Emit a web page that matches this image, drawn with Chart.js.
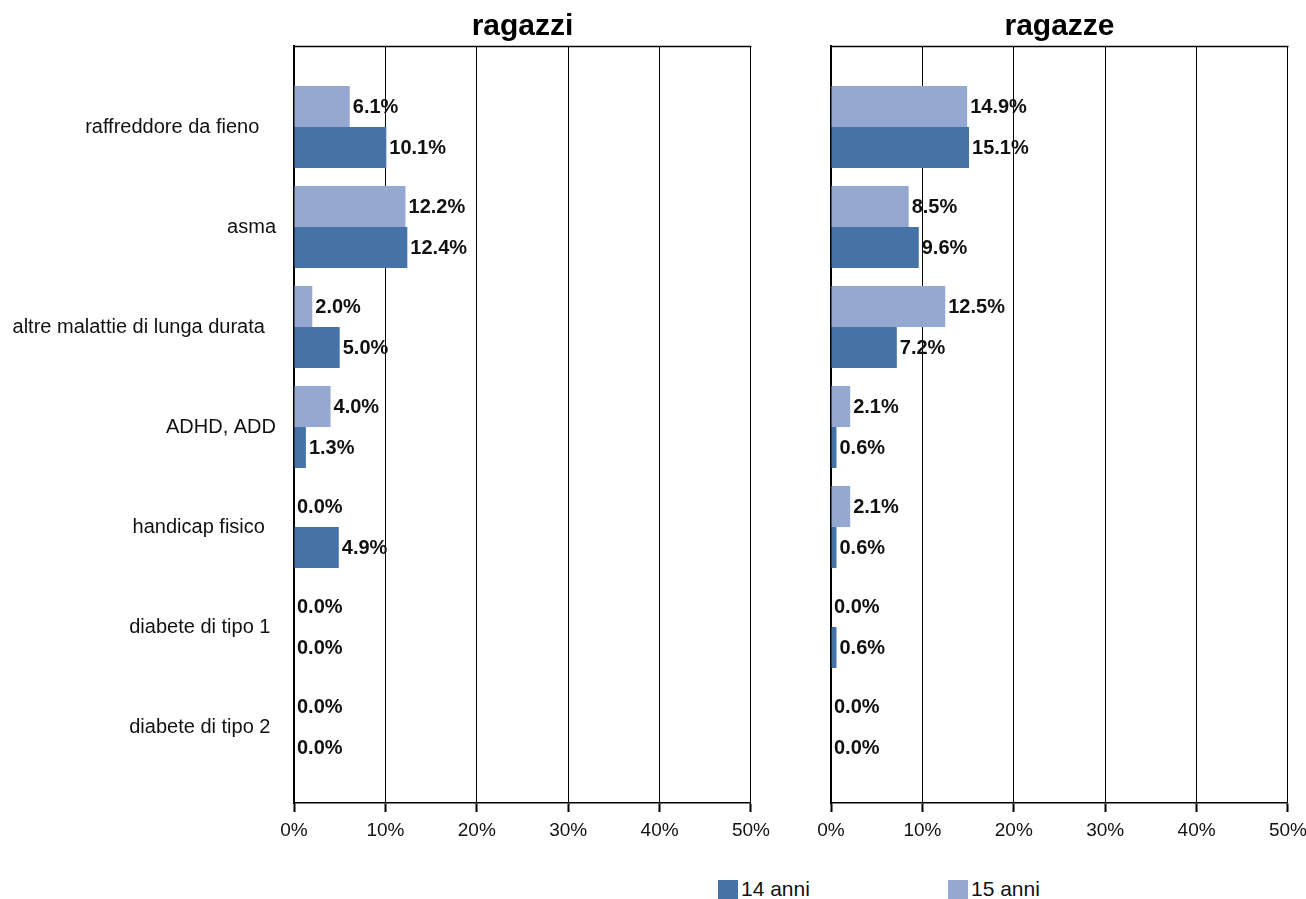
<!DOCTYPE html>
<html><head><meta charset="utf-8">
<script src="https://cdn.jsdelivr.net/npm/chart.js@4"></script>
<style>
body{margin:0;background:#fff;width:1306px;height:899px;position:relative;overflow:hidden;font-family:'Liberation Sans',Arial,sans-serif}
#c1{position:absolute;left:0;top:0;width:777px;height:860px}
#c2{position:absolute;left:780px;top:0;width:534px;height:860px}
.leg{position:absolute;top:879px;font-size:21px;line-height:20px;color:#111;display:flex;align-items:center}
.sw{width:20px;height:19px;margin-right:3px;display:inline-block}
</style></head><body>
<canvas id="c1" width="777" height="860"></canvas>
<canvas id="c2" width="534" height="860"></canvas>
<div class="leg" style="left:718px"><span class="sw" style="background:#4572a7"></span>14 anni</div>
<div class="leg" style="left:948px"><span class="sw" style="background:#95a9d0"></span>15 anni</div>
<script>
const categories = ["raffreddore da fieno   ", "asma", "altre malattie di lunga durata  ", "ADHD, ADD", "handicap fisico  ", "diabete di tipo 1 ", "diabete di tipo 2 "];
const seriesNames = ["15 anni", "14 anni"];
const ragazzi15 = [6.1, 12.2, 2.0, 4.0, 0.0, 0.0, 0.0];
const ragazzi14 = [10.1, 12.4, 5.0, 1.3, 4.9, 0.0, 0.0];
const ragazze15 = [14.9, 8.5, 12.5, 2.1, 2.1, 0.0, 0.0];
const ragazze14 = [15.1, 9.6, 7.2, 0.6, 0.6, 0.6, 0.0];
const xTicks = [0, 10, 20, 30, 40, 50];
const titles = ["ragazzi", "ragazze"];

const DARK = '#4572a7', LIGHT = '#95a9d0';
const FONT = "'Liberation Sans', Arial, sans-serif";

const labelPlugin = {
  id: 'vals',
  afterDatasetsDraw(chart) {
    const ctx = chart.ctx;
    ctx.save();
    ctx.font = 'bold 20px ' + FONT;
    ctx.fillStyle = '#111';
    ctx.textBaseline = 'middle';
    ctx.textAlign = 'left';
    chart.data.datasets.forEach((ds, di) => {
      chart.getDatasetMeta(di).data.forEach((el, i) => {
        ctx.fillText(ds.data[i].x.toFixed(1) + '%', el.x + 3, el.y + 1);
      });
    });
    const a = chart.chartArea;
    ctx.strokeStyle = '#000';
    ctx.lineWidth = 1.5;
    ctx.beginPath();
    ctx.moveTo(a.left, a.top + 0.5);
    ctx.lineTo(a.right + 0.5, a.top + 0.5);
    ctx.stroke();
    ctx.restore();
  }
};

function makeChart(id, title, v15, v14, yWidth, showLabels) {
  const toPts = arr => arr.map((v, i) => ({x: v, y: i}));
  return new Chart(document.getElementById(id), {
    type: 'bar',
    data: {
      datasets: [
        {label: seriesNames[0], data: toPts(v15), backgroundColor: LIGHT},
        {label: seriesNames[1], data: toPts(v14), backgroundColor: DARK}
      ]
    },
    options: {
      indexAxis: 'y',
      responsive: false,
      animation: false,
      categoryPercentage: 0.82,
      barPercentage: 1.0,
      layout: {padding: 0},
      plugins: {
        legend: {display: false},
        tooltip: {enabled: false},
        title: {display: true, text: title, fullSize: false, color: '#000',
          font: {family: FONT, size: 30, weight: 'bold'}, padding: {top: 9, bottom: 1}}
      },
      scales: {
        x: {
          type: 'linear', min: 0, max: 50,
          afterBuildTicks: s => { s.ticks = xTicks.map(v => ({value: v})); },
          afterFit: s => { s.height = 57; },
          grid: {color: '#000', lineWidth: 1, tickLength: 9, tickWidth: 2, tickColor: '#000'},
          border: {color: '#000', width: 1.5},
          ticks: {callback: v => v + '%', color: '#111', padding: 7, maxRotation: 0,
            font: {family: FONT, size: 19}}
        },
        y: {
          type: 'linear', min: -0.81, max: 6.76, reverse: true, offset: false,
          afterBuildTicks: s => { s.ticks = categories.map((c, i) => ({value: i})); },
          afterFit: s => { s.width = yWidth; },
          grid: {display: false, drawTicks: false, offset: false},
          border: {color: '#000', width: 2},
          ticks: {display: showLabels, callback: v => categories[v], color: '#111', padding: 18,
            autoSkip: false, font: {family: FONT, size: 20}}
        }
      }
    },
    plugins: [labelPlugin]
  });
}

makeChart('c1', titles[0], ragazzi15, ragazzi14, 294, true);
makeChart('c2', titles[1], ragazze15, ragazze14, 51, false);
</script>
</body></html>
